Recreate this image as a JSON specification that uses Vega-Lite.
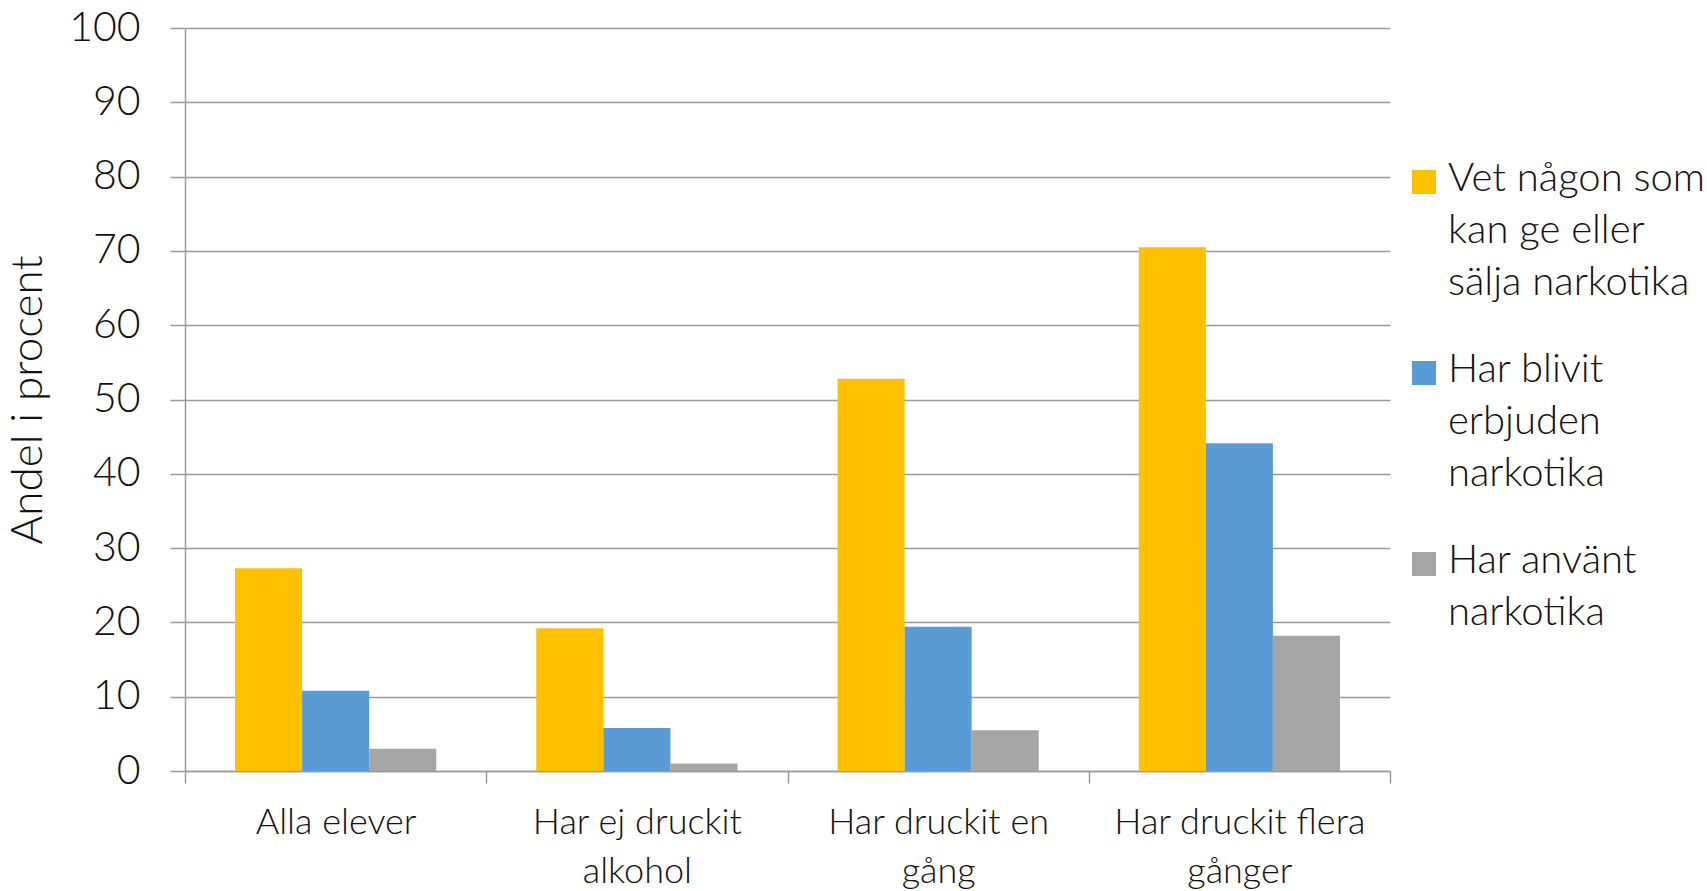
{
  "$schema": "https://vega.github.io/schema/vega-lite/v6.json",
  "autosize": "none",
  "width": 1205,
  "height": 743,
  "padding": {"left": 185, "top": 28, "right": 317, "bottom": 120},
  "background": "white",
  "data": {
    "values": [
      {"grupp": "Alla elever", "serie": "Vet någon som kan ge eller sälja narkotika", "andel": 27.3},
      {"grupp": "Alla elever", "serie": "Har blivit erbjuden narkotika", "andel": 10.8},
      {"grupp": "Alla elever", "serie": "Har använt narkotika", "andel": 3.0},
      {"grupp": "Har ej druckit alkohol", "serie": "Vet någon som kan ge eller sälja narkotika", "andel": 19.2},
      {"grupp": "Har ej druckit alkohol", "serie": "Har blivit erbjuden narkotika", "andel": 5.8},
      {"grupp": "Har ej druckit alkohol", "serie": "Har använt narkotika", "andel": 1.0},
      {"grupp": "Har druckit en gång", "serie": "Vet någon som kan ge eller sälja narkotika", "andel": 52.8},
      {"grupp": "Har druckit en gång", "serie": "Har blivit erbjuden narkotika", "andel": 19.4},
      {"grupp": "Har druckit en gång", "serie": "Har använt narkotika", "andel": 5.5},
      {"grupp": "Har druckit flera gånger", "serie": "Vet någon som kan ge eller sälja narkotika", "andel": 70.5},
      {"grupp": "Har druckit flera gånger", "serie": "Har blivit erbjuden narkotika", "andel": 44.1},
      {"grupp": "Har druckit flera gånger", "serie": "Har använt narkotika", "andel": 18.2}
    ]
  },
  "mark": {"type": "bar"},
  "encoding": {
    "x": {
      "field": "grupp",
      "type": "nominal",
      "sort": ["Alla elever", "Har ej druckit alkohol", "Har druckit en gång", "Har druckit flera gånger"],
      "scale": {"paddingInner": 0, "paddingOuter": 0},
      "axis": {
        "title": null,
        "labelAngle": 0,
        "labelFont": "Lato",
        "labelFontWeight": 300,
        "labelFontSize": 36,
        "labelColor": "#111111",
        "labelLineHeight": 49,
        "labelPadding": 13,
        "labelBaseline": "top",
        "labelLimit": 400,
        "labelExpr": "datum.label == 'Har ej druckit alkohol' ? ['Har ej druckit', 'alkohol'] : datum.label == 'Har druckit en gång' ? ['Har druckit en', 'gång'] : datum.label == 'Har druckit flera gånger' ? ['Har druckit flera', 'gånger'] : datum.label",
        "tickBand": "extent",
        "ticks": true,
        "tickSize": 12,
        "tickColor": "#9a9a9a",
        "tickWidth": 1.5,
        "domainColor": "#9a9a9a",
        "domainWidth": 1.5,
        "grid": false
      }
    },
    "xOffset": {
      "field": "serie",
      "type": "nominal",
      "sort": ["Vet någon som kan ge eller sälja narkotika", "Har blivit erbjuden narkotika", "Har använt narkotika"],
      "scale": {"paddingInner": 0, "paddingOuter": 0.746}
    },
    "y": {
      "field": "andel",
      "type": "quantitative",
      "scale": {"domain": [0, 100], "nice": false},
      "axis": {
        "title": "Andel i procent",
        "titleFont": "Lato",
        "titleFontWeight": 300,
        "titleFontSize": 44,
        "titleColor": "#111111",
        "titlePadding": 18,
        "values": [0, 10, 20, 30, 40, 50, 60, 70, 80, 90, 100],
        "labelFont": "Lato",
        "labelFontWeight": 300,
        "labelFontSize": 41,
        "labelColor": "#111111",
        "labelPadding": 30,
        "labelOffset": -9,
        "tickSize": 15,
        "tickColor": "#9a9a9a",
        "tickWidth": 1.5,
        "domainColor": "#9a9a9a",
        "domainWidth": 1.5,
        "grid": true,
        "gridColor": "#9a9a9a",
        "gridWidth": 1.5
      }
    },
    "color": {
      "field": "serie",
      "type": "nominal",
      "sort": ["Vet någon som kan ge eller sälja narkotika", "Har blivit erbjuden narkotika", "Har använt narkotika"],
      "scale": {
        "domain": ["Vet någon som kan ge eller sälja narkotika", "Har blivit erbjuden narkotika", "Har använt narkotika"],
        "range": ["#FFC000", "#5B9BD5", "#A5A5A5"]
      },
      "legend": {
        "title": null,
        "orient": "none",
        "legendX": 1219,
        "legendY": 134,
        "padding": 0,
        "symbolType": "square",
        "symbolSize": 576,
        "symbolStrokeWidth": 0,
        "labelFont": "Lato",
        "labelFontWeight": 300,
        "labelFontSize": 40,
        "labelColor": "#111111",
        "labelLimit": 400,
        "labelOffset": 4,
        "labelBaseline": "alphabetic",
        "rowPadding": 47,
        "labelExpr": "datum.label == 'Vet någon som kan ge eller sälja narkotika' ? ['Vet någon som', 'kan ge eller', 'sälja narkotika'] : datum.label == 'Har blivit erbjuden narkotika' ? ['Har blivit', 'erbjuden', 'narkotika'] : ['Har använt', 'narkotika']"
      }
    }
  },
  "config": {
    "view": {"stroke": null},
    "bar": {"stroke": null},
    "style": {"guide-label": {"lineHeight": 52, "dy": 9}}
  }
}
